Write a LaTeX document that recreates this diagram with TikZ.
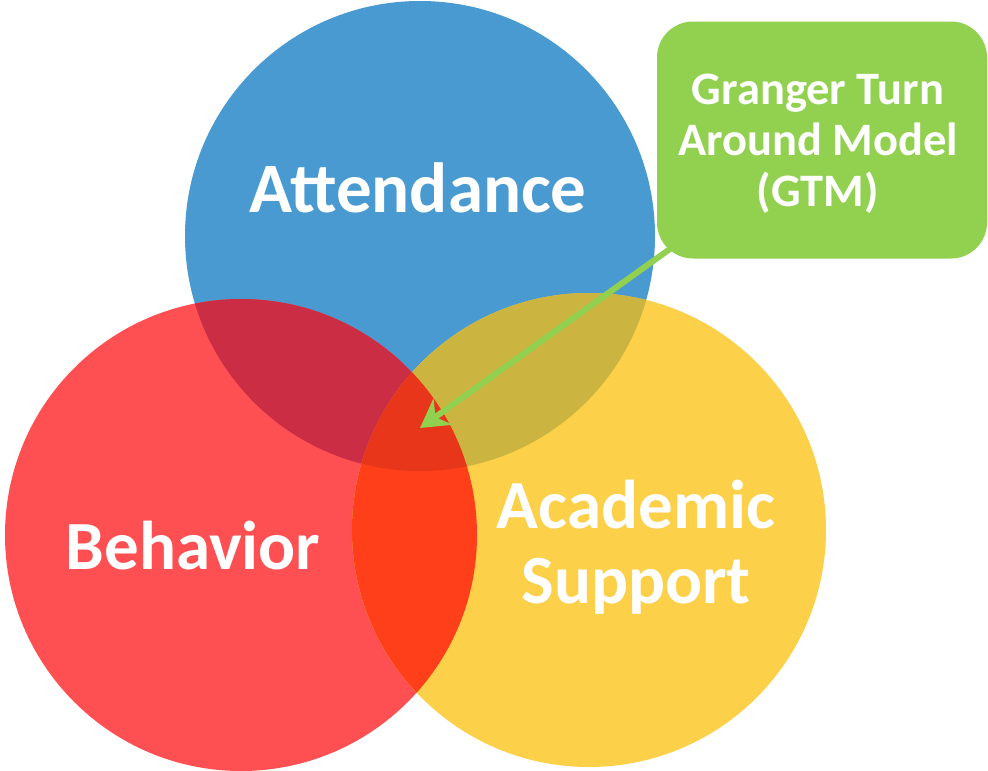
\documentclass[tikz,border=0pt]{standalone}
\usepackage{fontspec}
\setmainfont{Carlito}
\usetikzlibrary{arrows.meta}
\definecolor{cblue}{HTML}{4A9AD2}
\definecolor{cred}{HTML}{FE5052}
\definecolor{cyel}{HTML}{FDD04A}
\definecolor{cbr}{HTML}{CA2D44}
\definecolor{cby}{HTML}{CBB43F}
\definecolor{cry}{HTML}{FE3F1A}
\definecolor{cbry}{HTML}{E8361A}
\definecolor{cgreen}{HTML}{92D050}
\pgfdeclarelayer{fg}
\pgfsetlayers{main,fg}
\tikzset{
  biglabel/.style={text=white, font=\bfseries\fontsize{69}{75}\selectfont, align=center, inner sep=0pt},
  gtmbox/.style={fill=cgreen, rounded corners=36pt, minimum width=330pt, minimum height=237pt, inner sep=0pt,
    text=white, font=\bfseries\fontsize{46.5}{51}\selectfont, align=center},
  gtmarrow/.style={draw=cgreen, line width=6pt, -{Stealth[length=28pt,width=32pt,inset=9pt]}}
}
\begin{document}
\begin{tikzpicture}[x=1pt,y=-1pt]
\useasboundingbox (0,0) rectangle (988,771);
\fill[white] (0,0) rectangle (988,771);
\coordinate (B) at (420,236);
\coordinate (R) at (241,535);
\coordinate (Y) at (589,530);
\def\rb{235}\def\rr{236}\def\ry{237}
\fill[cblue] (B) circle[radius=\rb];
\fill[cred] (R) circle[radius=\rr];
\fill[cyel] (Y) circle[radius=\ry];
\begin{scope}\clip (B) circle[radius=\rb]; \fill[cbr] (R) circle[radius=\rr];\end{scope}
\begin{scope}\clip (B) circle[radius=\rb]; \fill[cby] (Y) circle[radius=\ry];\end{scope}
\begin{scope}\clip (R) circle[radius=\rr]; \fill[cry] (Y) circle[radius=\ry];\end{scope}
\begin{scope}\clip (B) circle[radius=\rb]; \clip (R) circle[radius=\rr]; \fill[cbry] (Y) circle[radius=\ry];\end{scope}
\node[biglabel, anchor=base, font=\bfseries\fontsize{71}{75}\selectfont] (att) at (418,212) {Attendance};
\node[biglabel, anchor=base] (beh) at (193,569) {Behavior};
\node[biglabel, anchor=base] (aca) at (636,603) {Academic\\Support};
\coordinate (tip) at (420,428);
\begin{pgfonlayer}{fg}
\node[gtmbox] (gtm) at (822,140) {};
\node[gtmbox, fill=none, rounded corners=0pt, minimum width=0pt, minimum height=0pt] (gtmtext) at (818,144) {Granger Turn\\Around Model\\(GTM)};
\end{pgfonlayer}
\draw[gtmarrow] (gtm.center) -- (tip);
\end{tikzpicture}
\end{document}
